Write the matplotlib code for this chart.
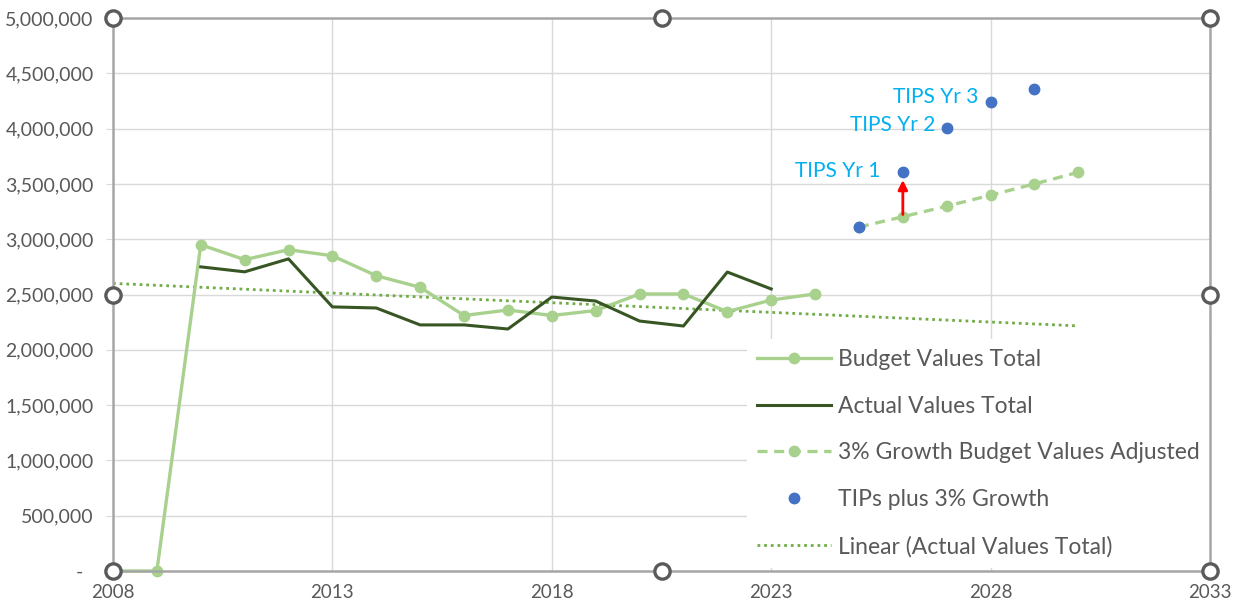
import matplotlib
matplotlib.use("Agg")
import matplotlib.pyplot as plt
import numpy as np
from matplotlib.ticker import FuncFormatter

# data
budget_years = [2008, 2009, 2010, 2011, 2012, 2013, 2014, 2015, 2016, 2017,
                2018, 2019, 2020, 2021, 2022, 2023, 2024]
budget_total = [0, 0, 2950000, 2815000, 2905000, 2850000, 2670000, 2565000, 2310000, 2360000,
                2310000, 2355000, 2505000, 2505000, 2345000, 2450000, 2505000]

actual_years = [2010, 2011, 2012, 2013, 2014, 2015, 2016, 2017, 2018, 2019,
                2020, 2021, 2022, 2023]
actual_total = [2750000, 2705000, 2822000, 2388000, 2378000, 2225000, 2225000, 2188000, 2477000, 2441000,
                2260000, 2215000, 2703000, 2550000]

growth_years = [2025, 2026, 2027, 2028, 2029, 2030]
growth_budget = [3110000, 3203000, 3299000, 3398000, 3500000, 3605000]

tips_years = [2025, 2026, 2027, 2028, 2029]
tips_values = [3110000, 3605000, 4005000, 4240000, 4360000]

tips_labels = ["TIPS Yr 1", "TIPS Yr 2", "TIPS Yr 3"]
tips_label_years = [2026, 2027, 2028]

trend_span = [2008, 2030]

# colours
c_budget = "#A9D18E"
c_actual = "#375623"
c_tips = "#4472C4"
c_trend = "#70AD47"
c_text = "#595959"
c_label = "#00B0F0"

plt.rcParams['font.family'] = ['Lato', 'DejaVu Sans']

fig = plt.figure(figsize=(12.37, 6.04), dpi=100)
ax = fig.add_axes([113/1237, 33/604, 1097/1237, 553/604])

ax.set_xlim(2008, 2033)
ax.set_ylim(0, 5000000)
ax.set_xticks(np.arange(2008, 2034, 5))
ax.set_yticks(np.arange(0, 5000001, 500000))
ax.yaxis.set_major_formatter(FuncFormatter(lambda v, p: "-  " if v == 0 else "{:,.0f}".format(v)))
ax.grid(True, color="#D9D9D9", lw=1.0, zorder=0)
ax.set_axisbelow(True)
ax.tick_params(axis='y', length=5, color="#D9D9D9", labelcolor=c_text, labelsize=14, pad=9)
ax.tick_params(axis='x', length=0, labelcolor=c_text, labelsize=13.5, pad=9)
for s in ax.spines.values():
    s.set_color("#A6A6A6")
    s.set_linewidth(1.8)
    s.set_zorder(8)

# trendline of actual values
k, b = np.polyfit(actual_years, actual_total, 1)
tx = np.array(trend_span)
ax.plot(tx, k*tx + b, color=c_trend, lw=2, ls=(0, (1, 1.4)), zorder=2,
        label="Linear (Actual Values Total)")

ax.plot(budget_years, budget_total, color=c_budget, lw=2.4, marker='o', ms=7.5,
        zorder=3, clip_on=False, label="Budget Values Total")
ax.plot(actual_years, actual_total, color=c_actual, lw=2.2, zorder=4,
        label="Actual Values Total")
ax.plot(growth_years, growth_budget, color=c_budget, lw=2.4, ls=(0, (3, 2)), marker='o', ms=7.5,
        zorder=3, label="3% Growth Budget Values Adjusted")
ax.plot(tips_years, tips_values, ls='none', marker='o', ms=7.5, color=c_tips, zorder=5,
        label="TIPs plus 3% Growth")

# labels on the TIPS points
offsets = [(-16, 1), (-8, 2), (-9, 4)]
for lab, yr, off in zip(tips_labels, tips_label_years, offsets):
    yv = tips_values[tips_years.index(yr)]
    ax.annotate(lab, xy=(yr, yv), xytext=off, textcoords='offset points',
                ha='right', va='center', color=c_label, fontsize=15)

# red arrow from growth budget up to TIPS yr 1
g26 = growth_budget[growth_years.index(2026)]
t26 = tips_values[tips_years.index(2026)]
ax.annotate("", xy=(2026, t26 - 70000), xytext=(2026, g26 + 20000),
            arrowprops=dict(arrowstyle="-|>", color="#FF0000", lw=2, mutation_scale=14,
                            shrinkA=0, shrinkB=0), zorder=6)

# legend
h, l = ax.get_legend_handles_labels()
order = [1, 2, 3, 4, 0]
leg = ax.legend([h[i] for i in order], [l[i] for i in order], loc='upper left',
                bbox_to_anchor=(0.578, 0.42), borderaxespad=0, frameon=True,
                fontsize=16.5, labelcolor=c_text, handlelength=3.2, handletextpad=0.3,
                labelspacing=1.12, borderpad=0.45, numpoints=1, fancybox=False)
leg.get_frame().set_facecolor("white")
leg.get_frame().set_edgecolor("none")
leg.get_frame().set_alpha(1)
leg.set_zorder(7)

# selection handles on the plot area
hx = [0, 0.5, 1, 0, 1, 0, 0.5, 1]
hy = [1, 1, 1, 0.5, 0.5, 0, 0, 0]
ax.plot(hx, hy, ls='none', marker='o', ms=11, mfc='white', mec="#5A5A5A", mew=2.4,
        transform=ax.transAxes, clip_on=False, zorder=10)

fig.savefig("out.png", dpi=100)
